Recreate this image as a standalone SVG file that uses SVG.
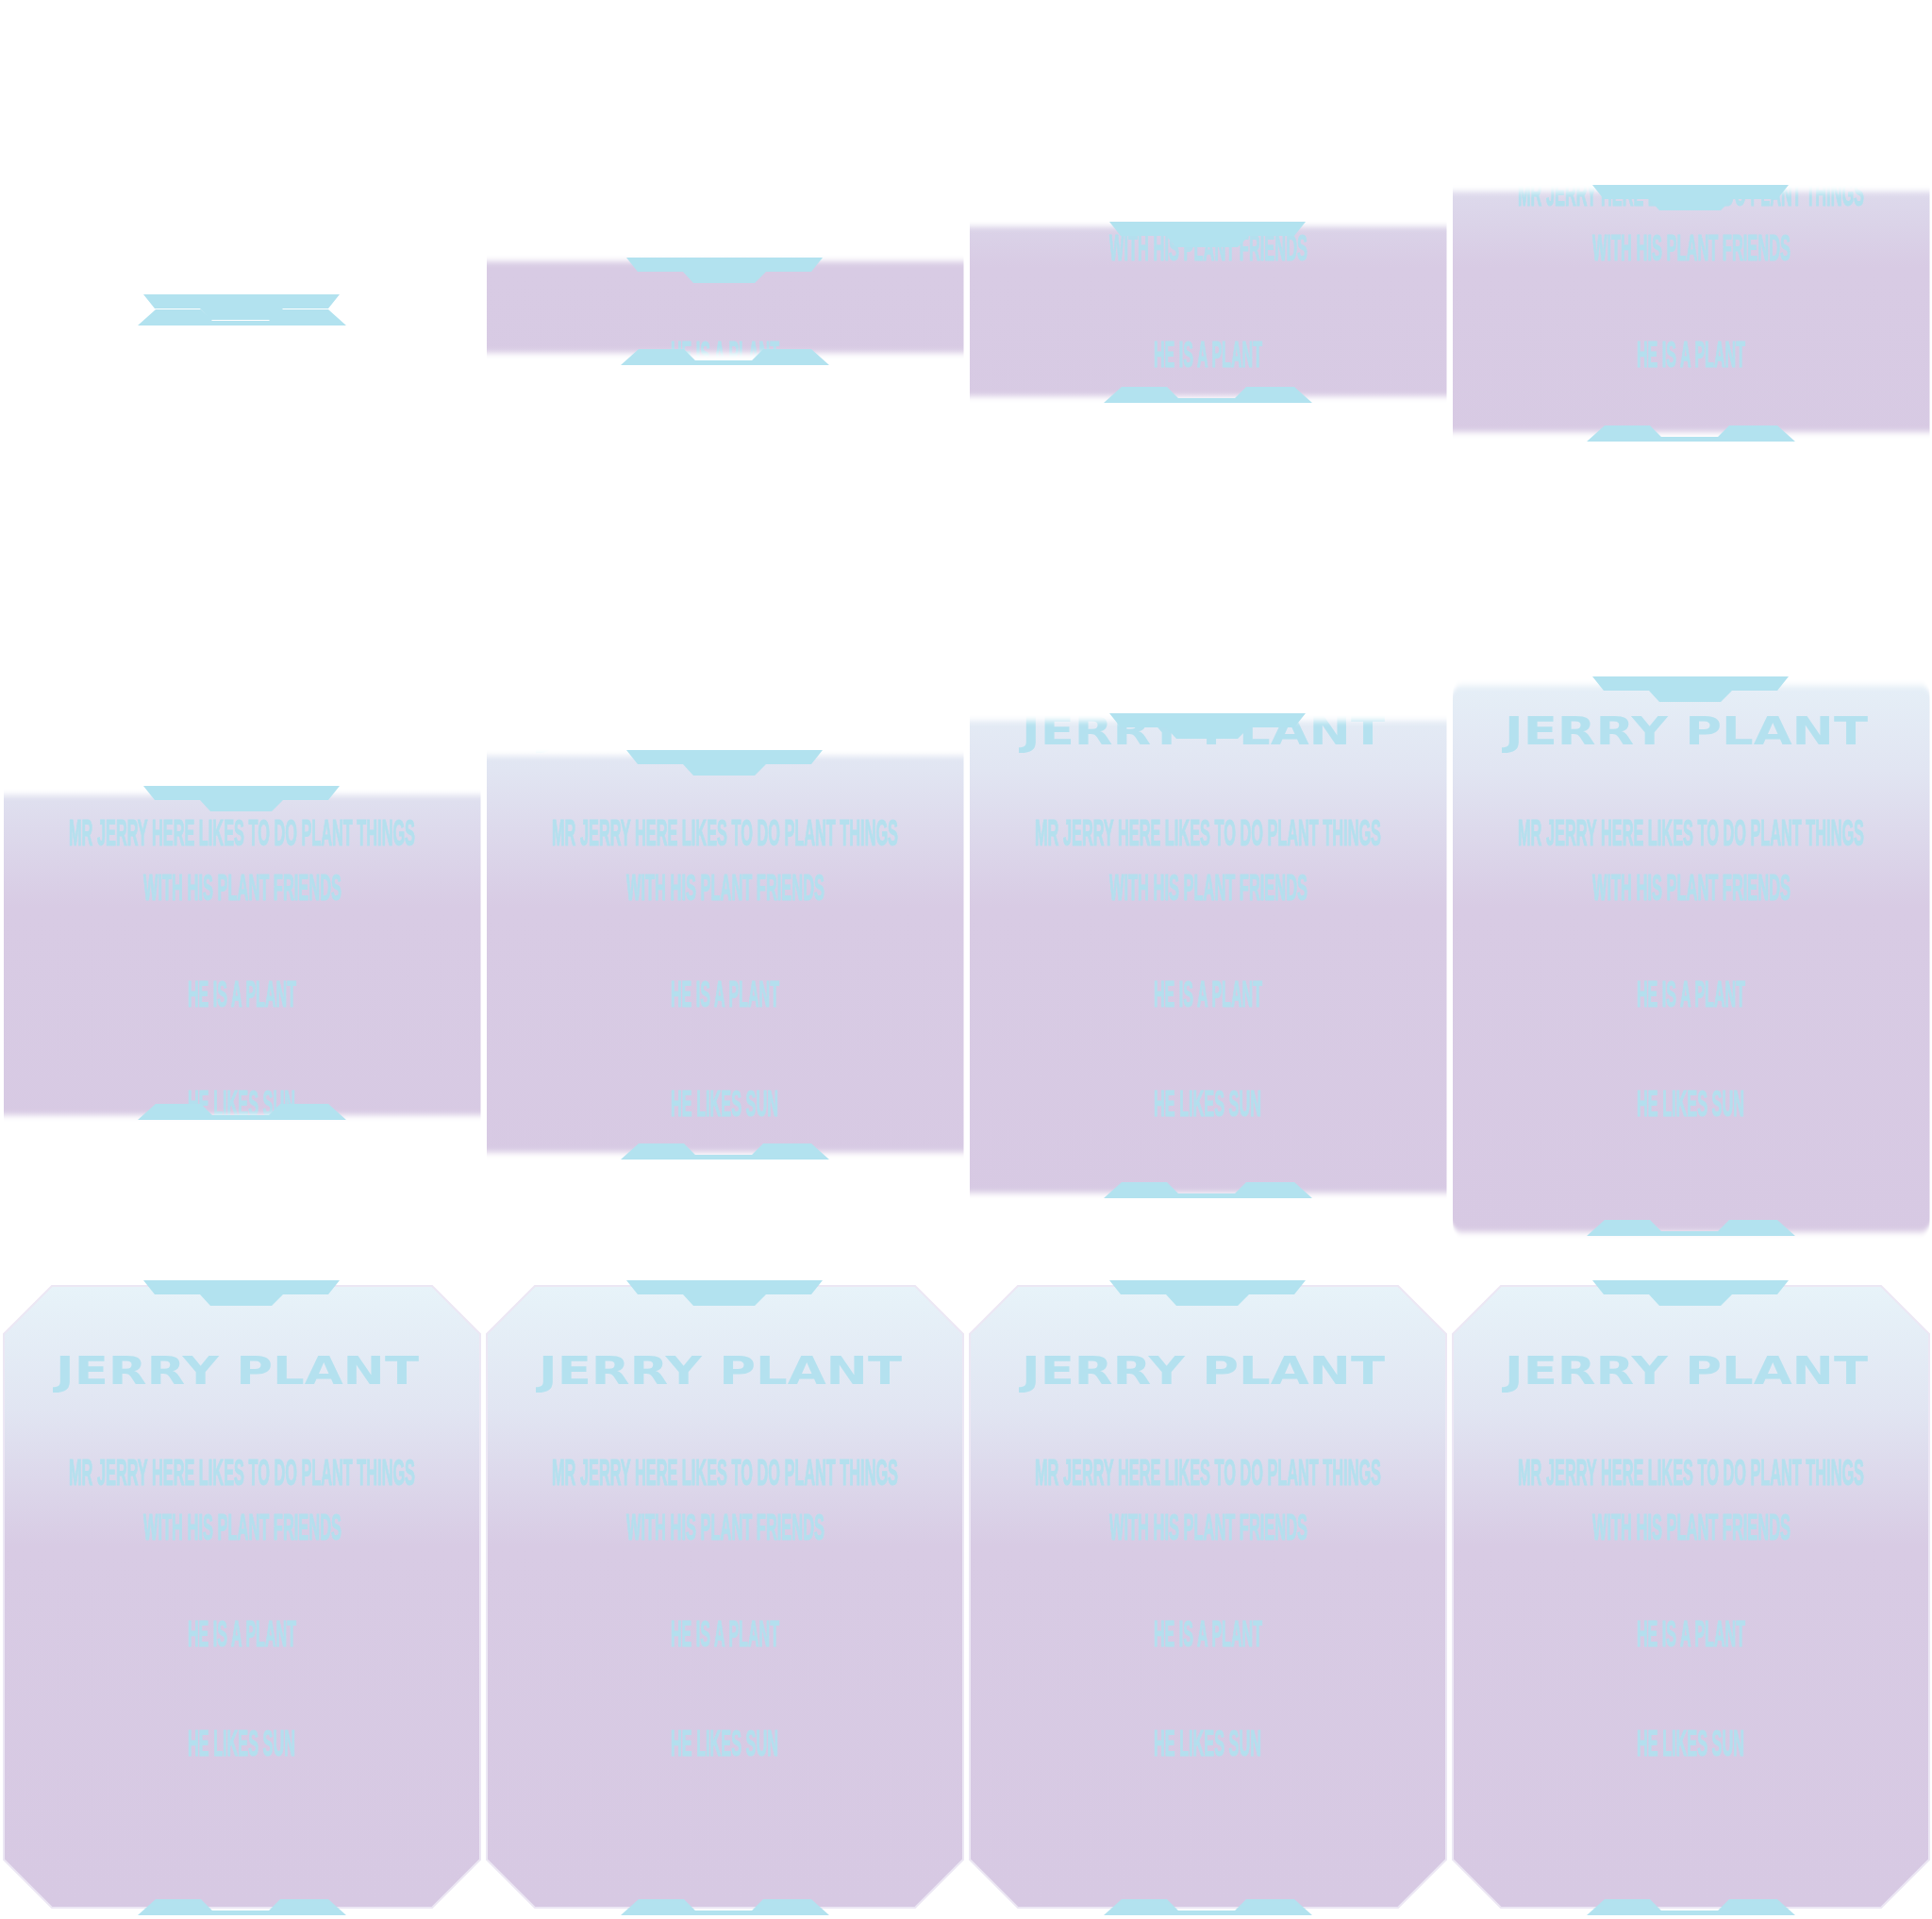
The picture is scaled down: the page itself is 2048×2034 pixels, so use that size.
<svg xmlns="http://www.w3.org/2000/svg" xmlns:xlink="http://www.w3.org/1999/xlink" width="2048" height="2034" viewBox="0 0 2048 2034">
<style>
.tab{fill:#b2e2ef}
.title{font-family:"DejaVu Sans","Liberation Sans",sans-serif;font-weight:bold;font-size:40px;fill:#b1e1ef;opacity:0.92}
.body{font-family:"Liberation Sans Narrow","Liberation Sans","DejaVu Sans",sans-serif;font-weight:bold;font-size:38px;fill:#b1e1ef;stroke:#b1e1ef;stroke-width:1.1;opacity:0.92}
.mr{fill:#fff}
.panel{fill:url(#grad);stroke:#ece7f4;stroke-width:2}
</style>
<defs>
<linearGradient id="grad" gradientUnits="userSpaceOnUse" x1="0" y1="7" x2="0" y2="666">
<stop offset="0" stop-color="#e7f3f9"/>
<stop offset="0.2" stop-color="#e1e5f2"/>
<stop offset="0.42" stop-color="#d8cbe4"/>
<stop offset="1" stop-color="#d7c9e3"/>
</linearGradient>
<filter id="by" x="-5%" y="-40%" width="110%" height="180%"><feGaussianBlur stdDeviation="0.6 3"/></filter>
<polygon id="tabTop" class="tab" points="152,0 360,0 348,15 300,15 288,27 223,27 212,15 164,15"/>
<polygon id="tabBot" class="tab" points="146,0 165,-17 213,-17 225,-5 285,-5 297,-17 348,-17 367,0"/>
<g id="txt">
<text class="title" x="251.5" y="111" text-anchor="middle" textLength="385" lengthAdjust="spacingAndGlyphs">JERRY PLANT</text>
<text class="body" x="256.5" y="218" text-anchor="middle" textLength="367" lengthAdjust="spacingAndGlyphs">MR JERRY HERE LIKES TO DO PLANT THINGS</text>
<text class="body" x="257" y="276" text-anchor="middle" textLength="210" lengthAdjust="spacingAndGlyphs">WITH HIS PLANT FRIENDS</text>
<text class="body" x="256.5" y="389" text-anchor="middle" textLength="115" lengthAdjust="spacingAndGlyphs">HE IS A PLANT</text>
<text class="body" x="256" y="505" text-anchor="middle" textLength="114" lengthAdjust="spacingAndGlyphs">HE LIKES SUN</text>
</g>
<g id="bodyfill">
<rect x="0" y="0" width="512" height="678" fill="url(#grad)"/>
<use href="#txt"/>
</g>
<mask id="m2" maskUnits="userSpaceOnUse" x="0" y="0" width="512" height="678"><rect class="mr" x="4" y="277" width="505.5" height="97" filter="url(#by)"/></mask>
<mask id="m3" maskUnits="userSpaceOnUse" x="0" y="0" width="512" height="678"><rect class="mr" x="4" y="240" width="505.5" height="180" filter="url(#by)"/></mask>
<mask id="m4" maskUnits="userSpaceOnUse" x="0" y="0" width="512" height="678"><rect class="mr" x="4" y="203" width="505.5" height="255" filter="url(#by)"/></mask>
<mask id="m5" maskUnits="userSpaceOnUse" x="0" y="0" width="512" height="678"><rect class="mr" x="4" y="164.5" width="505.5" height="339.5" filter="url(#by)"/></mask>
<mask id="m6" maskUnits="userSpaceOnUse" x="0" y="0" width="512" height="678"><rect class="mr" x="4" y="123" width="505.5" height="420.5" filter="url(#by)"/></mask>
<mask id="m7" maskUnits="userSpaceOnUse" x="0" y="0" width="512" height="678"><rect class="mr" x="4" y="86" width="505.5" height="500.5" filter="url(#by)"/></mask>
<mask id="m8" maskUnits="userSpaceOnUse" x="0" y="0" width="512" height="678"><rect class="mr" x="4" y="48.5" width="505.5" height="579.5" rx="11" filter="url(#by)"/></mask>
<g id="final">
<polygon class="panel" points="55,7 458,7 509,58 509,615 458,666 55,666 4,615 4,58"/>
<use href="#txt"/>
<use href="#tabTop" y="1"/>
<use href="#tabBot" y="674"/>
</g>
</defs>
<rect x="0" y="0" width="2048" height="2034" fill="#ffffff"/>

<g id="frame-1" transform="translate(0,0)">
<use href="#tabTop" y="312"/>
<use href="#tabBot" y="345"/>
</g>
<g id="frame-2" transform="translate(512,0)">
<g mask="url(#m2)"><use href="#bodyfill"/></g>
<use href="#tabTop" y="273"/>
<use href="#tabBot" y="387"/>
</g>
<g id="frame-3" transform="translate(1024,0)">
<g mask="url(#m3)"><use href="#bodyfill"/></g>
<use href="#tabTop" y="235"/>
<use href="#tabBot" y="427"/>
</g>
<g id="frame-4" transform="translate(1536,0)">
<g mask="url(#m4)"><use href="#bodyfill"/></g>
<use href="#tabTop" y="196"/>
<use href="#tabBot" y="468"/>
</g>
<g id="frame-5" transform="translate(0,678)">
<g mask="url(#m5)"><use href="#bodyfill"/></g>
<use href="#tabTop" y="155"/>
<use href="#tabBot" y="509"/>
</g>
<g id="frame-6" transform="translate(512,678)">
<g mask="url(#m6)"><use href="#bodyfill"/></g>
<use href="#tabTop" y="117"/>
<use href="#tabBot" y="551"/>
</g>
<g id="frame-7" transform="translate(1024,678)">
<g mask="url(#m7)"><use href="#bodyfill"/></g>
<use href="#tabTop" y="78"/>
<use href="#tabBot" y="592"/>
</g>
<g id="frame-8" transform="translate(1536,678)">
<g mask="url(#m8)"><use href="#bodyfill"/></g>
<use href="#tabTop" y="39"/>
<use href="#tabBot" y="632"/>
</g>
<g id="frame-9" transform="translate(0,1356)"><use href="#final"/></g>
<g id="frame-10" transform="translate(512,1356)"><use href="#final"/></g>
<g id="frame-11" transform="translate(1024,1356)"><use href="#final"/></g>
<g id="frame-12" transform="translate(1536,1356)"><use href="#final"/></g>
</svg>
